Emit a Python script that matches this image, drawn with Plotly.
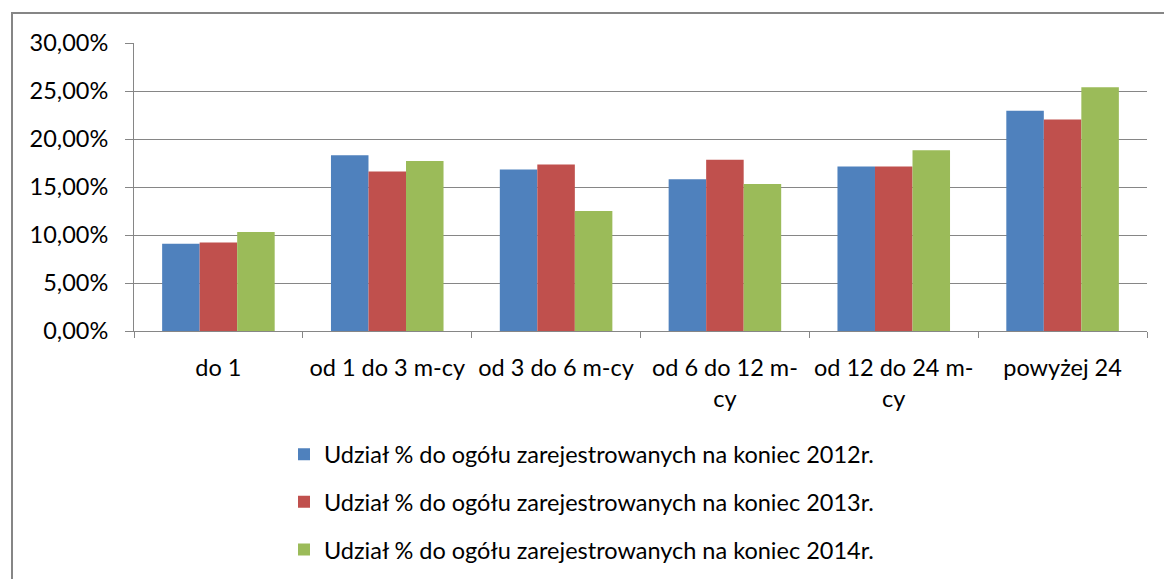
import plotly.graph_objects as go

categories = ["do 1", "od 1 do 3 m-cy", "od 3 do 6 m-cy", "od 6 do 12 m-<br>cy", "od 12 do 24 m-<br>cy", "powyżej 24"]
series_names = [
    "Udział % do ogółu zarejestrowanych na koniec 2012r.",
    "Udział % do ogółu zarejestrowanych na koniec 2013r.",
    "Udział % do ogółu zarejestrowanych na koniec 2014r.",
]
values_2012 = [0.0909, 0.1831, 0.1682, 0.1582, 0.1713, 0.2293]
values_2013 = [0.0923, 0.1661, 0.1734, 0.1783, 0.1713, 0.2203]
values_2014 = [0.1030, 0.1772, 0.1249, 0.1530, 0.1883, 0.2539]
colors = ["#4F81BD", "#C0504D", "#9BBB59"]

W, H = 1164, 579
L, R, T, B = 134, 1147, 43, 331  # plot area in px

FONT = "Lato"
FS = 23.5

fig = go.Figure()
for name, vals, col in zip(series_names, [values_2012, values_2013, values_2014], colors):
    fig.add_trace(go.Bar(x=categories, y=vals, name=name, marker_color=col,
                         marker_line_width=0, legendgroup=name))

pw, ph = R - L, B - T
def px_x(x):
    return (x - L) / pw
def px_y(y):
    return (B - y) / ph

fig.update_layout(
    width=W, height=H, autosize=False,
    margin=dict(l=L, r=W - R, t=T, b=H - B, pad=0, autoexpand=False),
    paper_bgcolor="white", plot_bgcolor="white",
    font=dict(family=FONT, size=FS, color="#000000"),
    separators=", ",
    barmode="group", bargap=1/3, bargroupgap=0,
    showlegend=True,
    legend=dict(orientation="v", xref="container", yref="container",
                x=284 / W, xanchor="left", y=1 - 432.5 / H, yanchor="top",
                tracegroupgap=14, font=dict(family=FONT, size=FS), bgcolor="rgba(0,0,0,0)"),
    shapes=[dict(type="rect", xref="paper", yref="paper",
                 x0=px_x(12), x1=px_x(1175), y0=px_y(13), y1=px_y(600),
                 line=dict(color="#868686", width=2), fillcolor="rgba(0,0,0,0)", layer="below")],
)
fig.update_xaxes(showgrid=False, showline=True, linecolor="#868686", linewidth=1,
                 ticks="outside", tickson="boundaries", ticklen=6, tickcolor="#868686",
                 ticklabelstandoff=16, tickfont=dict(family=FONT, size=FS), automargin=False)
fig.update_yaxes(range=[0, 0.30], dtick=0.05, tickformat=".2%", showgrid=True,
                 gridcolor="#868686", gridwidth=1, showline=True, linecolor="#868686", linewidth=1,
                 ticks="outside", ticklen=8, tickcolor="#868686", ticklabelstandoff=12,
                 zeroline=False, tickfont=dict(family=FONT, size=FS), automargin=False)

fig.write_html("out.html", config={"displayModeBar": False},
               post_script="document.body.style.margin='0';")
